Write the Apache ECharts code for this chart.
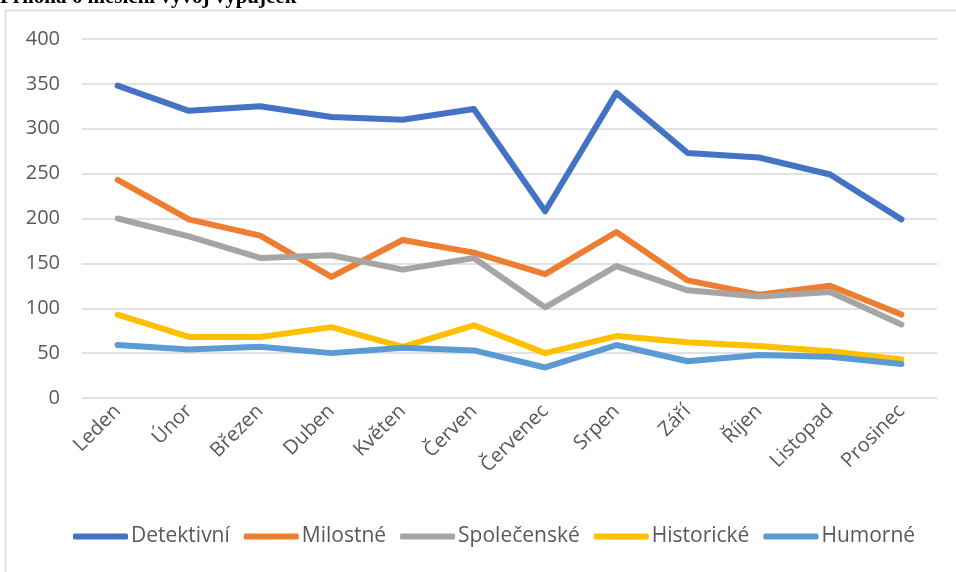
<!DOCTYPE html>
<html>
<head>
<meta charset="utf-8">
<script src="https://cdn.jsdelivr.net/npm/echarts@6/dist/echarts.min.js"></script>
<style>html,body{margin:0;padding:0;background:#fff;}#c{width:956px;height:572px;}</style>
</head>
<body>
<div id="c"></div>
<script>
const titleText = "Příloha 6 měsíční vývoj výpůjček";
const months = ["Leden","Únor","Březen","Duben","Květen","Červen","Červenec","Srpen","Září","Říjen","Listopad","Prosinec"];
const detektivni = [348, 320, 325, 313, 310, 322, 208, 340, 273, 268, 249, 199];
const milostne = [243, 199, 181, 135, 176, 162, 138, 185, 131, 115, 125, 93];
const spolecenske = [200, 180, 156, 159, 143, 156, 101, 147, 120, 113, 118, 82];
const historicke = [93, 68, 68, 79, 57, 81, 50, 69, 62, 58, 52, 43];
const humorne = [59, 54, 57, 50, 56, 53, 34, 59, 41, 48, 46, 38];
const seriesNames = ["Detektivní","Milostné","Společenské","Historické","Humorné"];
const yTicks = [0, 50, 100, 150, 200, 250, 300, 350, 400];

const colors = ["#4472C4","#ED7D31","#A5A5A5","#FFC000","#5B9BD5"];
const dataSets = [detektivni, milostne, spolecenske, historicke, humorne];
const font = "'Open Sans', sans-serif";

const chart = echarts.init(document.getElementById('c'), null, {renderer:'canvas'});
chart.setOption({
  animation: false,
  color: colors,
  graphic: [
    {type:'rect', shape:{x:5.5,y:10.5,width:1000,height:700}, style:{fill:'none', stroke:'#d9d9d9', lineWidth:1.5}, z:-1},
    {type:'text', left:0, top:-13, style:{text:titleText, font:"bold 21px 'Liberation Serif', serif", fill:'#000'}}
  ],
  grid: {left:82, right:19, top:39, bottom:174, containLabel:false},
  legend: {
    data: seriesNames,
    bottom: 20,
    left: 68,
    icon: 'roundRect',
    itemWidth: 55,
    itemHeight: 6,
    itemGap: 14,
    textStyle: {fontFamily: font, fontSize: 21, color:'#595959', padding:[0,0,0,-2]}
  },
  xAxis: {
    type:'category',
    data: months,
    boundaryGap: true,
    axisLine:{show:false},
    axisTick:{show:false},
    axisLabel:{rotate:45, fontFamily:font, fontSize:20, color:'#595959', margin:10, interval:0}
  },
  yAxis: {
    type:'value',
    min: yTicks[0],
    max: yTicks[yTicks.length-1],
    interval: 50,
    axisLine:{show:false},
    axisTick:{show:false},
    axisLabel:{fontFamily:font, fontSize:20, color:'#595959', margin:22},
    splitLine:{lineStyle:{color:'#d9d9d9', width:1.5}}
  },
  series: seriesNames.map((n,i)=>({
    name:n, type:'line', data:dataSets[i], showSymbol:false, symbol:'none',
    lineStyle:{width:6, cap:'round', join:'round', color:colors[i]},
    itemStyle:{color:colors[i]}
  }))
});
</script>
</body>
</html>
